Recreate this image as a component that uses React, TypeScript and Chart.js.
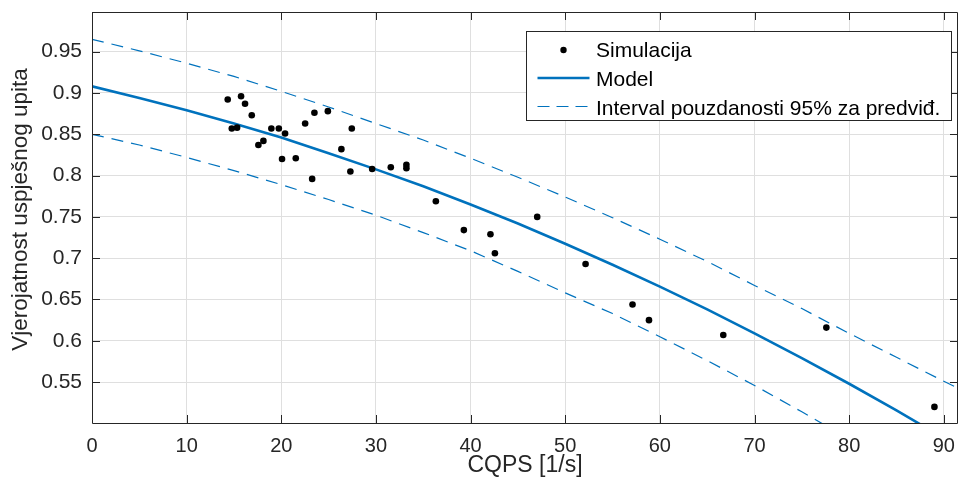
import { useEffect, useRef } from "react";
import { Chart, registerables } from "chart.js";

Chart.register(...registerables);

// ---- data ----
const simX = [
  14.34, 15.75, 16.17, 16.88, 14.77, 15.33, 17.58, 18.11, 18.95, 19.74,
  20.40, 20.08, 21.53, 22.52, 23.50, 24.92, 23.26, 26.35, 27.45, 27.30,
  29.60, 31.57, 33.22, 33.22, 36.33, 39.29, 42.10, 42.57, 47.04, 52.15,
  57.11, 58.85, 66.70, 77.59, 89.01,
];
const simY = [
  0.892, 0.896, 0.887, 0.873, 0.857, 0.858, 0.837, 0.842, 0.857, 0.857,
  0.851, 0.820, 0.821, 0.863, 0.876, 0.878, 0.796, 0.832, 0.857, 0.805,
  0.808, 0.810, 0.813, 0.809, 0.769, 0.734, 0.729, 0.706, 0.750, 0.693,
  0.644, 0.625, 0.607, 0.616, 0.520,
];
const curveX = [0, 5, 10, 15, 20, 25, 30, 35, 40, 45, 50, 55, 60, 65, 70, 75, 80, 85, 90, 92];
const modelY = [
  0.908, 0.894, 0.879, 0.863, 0.846, 0.827, 0.8075, 0.787, 0.765, 0.742,
  0.7175, 0.692, 0.6656, 0.638, 0.609, 0.579, 0.548, 0.5157, 0.4823, 0.4686,
];
const upperY = [
  0.965, 0.951, 0.936, 0.920, 0.902, 0.883, 0.863, 0.843, 0.821, 0.798,
  0.774, 0.749, 0.723, 0.696, 0.667, 0.639, 0.609, 0.580, 0.551, 0.540,
];
const lowerY = [
  0.850, 0.837, 0.822, 0.806, 0.789, 0.771, 0.752, 0.731, 0.709, 0.684,
  0.658, 0.633, 0.605, 0.576, 0.546, 0.514, 0.481, 0.448, 0.414, 0.400,
];
const xTicks = [0, 10, 20, 30, 40, 50, 60, 70, 80, 90];
const yTicks = [0.55, 0.6, 0.65, 0.7, 0.75, 0.8, 0.85, 0.9, 0.95];
const xRange = [0, 91.5];
const yRange = [0.5005, 0.998];

const seriesLabels = ["Simulacija", "Model", "Interval pouzdanosti 95% za predviđ."];
const xTitle = "CQPS [1/s]";
const yTitle = "Vjerojatnost uspješnog upita";

const FONT = "'Liberation Sans', Arial, Helvetica, sans-serif";
const BLUE = "#0072BD";
const AXIS = "#262626";
const GRID = "#dfdfdf";

const frameAndLegend = {
  id: "frameAndLegend",
  afterDatasetsDraw(chart: any) {
    const ctx = chart.ctx as CanvasRenderingContext2D;
    const { left, right, top, bottom } = chart.chartArea;
    const xs = chart.scales.x;
    const ys = chart.scales.y;
    const tl = 8;
    ctx.save();
    ctx.strokeStyle = AXIS;
    ctx.lineWidth = 1;
    ctx.beginPath();
    ctx.rect(Math.round(left) + 0.5, Math.round(top) + 0.5, Math.round(right - left) - 1, Math.round(bottom - top));
    for (const v of xTicks) {
      const px = Math.round(xs.getPixelForValue(v)) + 0.5;
      ctx.moveTo(px, bottom);
      ctx.lineTo(px, bottom - tl);
      ctx.moveTo(px, top);
      ctx.lineTo(px, top + tl);
    }
    for (const v of yTicks) {
      const py = Math.round(ys.getPixelForValue(v)) + 0.5;
      ctx.moveTo(left, py);
      ctx.lineTo(left + tl, py);
      ctx.moveTo(right, py);
      ctx.lineTo(right - tl, py);
    }
    ctx.stroke();
    ctx.restore();
  },
  afterDraw(chart: any) {
    const ctx = chart.ctx as CanvasRenderingContext2D;
    const { right, top, bottom } = chart.chartArea;
    // y axis title
    ctx.save();
    ctx.font = `22.5px ${FONT}`;
    ctx.fillStyle = AXIS;
    ctx.textAlign = "center";
    ctx.textBaseline = "middle";
    ctx.translate(21, (top + bottom) / 2 - 8);
    ctx.rotate(-Math.PI / 2);
    ctx.fillText(yTitle, 0, 0);
    ctx.restore();

    // legend
    const bx = Math.round(right - 432) + 0.5;
    const by = Math.round(top + 19) + 0.5;
    const bw = 425;
    const bh = 89;
    ctx.save();
    ctx.fillStyle = "#ffffff";
    ctx.fillRect(bx, by, bw, bh);
    ctx.strokeStyle = AXIS;
    ctx.lineWidth = 1;
    ctx.strokeRect(bx, by, bw, bh);
    const rows = [by + 19.5, by + 49, by + 77.5];
    const sx0 = bx + 11;
    const sx1 = bx + 63;
    const tx = bx + 69.5;
    ctx.font = `21px ${FONT}`;
    ctx.fillStyle = "#000000";
    ctx.textBaseline = "middle";
    ctx.textAlign = "left";
    ctx.beginPath();
    ctx.arc((sx0 + sx1) / 2, rows[0] - 1, 3.2, 0, Math.PI * 2);
    ctx.fill();
    ctx.fillText(seriesLabels[0], tx, rows[0]);
    ctx.strokeStyle = BLUE;
    ctx.lineWidth = 2.6;
    ctx.beginPath();
    ctx.moveTo(sx0, rows[1] - 2.5);
    ctx.lineTo(sx1, rows[1] - 2.5);
    ctx.stroke();
    ctx.fillText(seriesLabels[1], tx, rows[1]);
    ctx.lineWidth = 1.2;
    ctx.setLineDash([12, 7]);
    ctx.beginPath();
    ctx.moveTo(sx0, rows[2] - 2.5);
    ctx.lineTo(sx1, rows[2] - 2.5);
    ctx.stroke();
    ctx.setLineDash([]);
    ctx.fillText(seriesLabels[2], tx, rows[2]);
    ctx.restore();
  },
};

export default function App() {
  const ref = useRef<HTMLCanvasElement | null>(null);
  useEffect(() => {
    if (!ref.current) return;
    const pts = simX.map((x, i) => ({ x, y: simY[i] }));
    const model = curveX.map((x, i) => ({ x, y: modelY[i] }));
    const upper = curveX.map((x, i) => ({ x, y: upperY[i] }));
    const lower = curveX.map((x, i) => ({ x, y: lowerY[i] }));
    const chart = new Chart(ref.current, {
      type: "scatter",
      data: {
        datasets: [
          {
            label: seriesLabels[0],
            data: pts,
            pointRadius: 3.3,
            pointBackgroundColor: "#000000",
            pointBorderWidth: 0,
            showLine: false,
          },
          {
            label: seriesLabels[1],
            data: model,
            showLine: true,
            pointRadius: 0,
            borderColor: BLUE,
            borderWidth: 2.6,
            tension: 0,
          },
          {
            label: seriesLabels[2],
            data: upper,
            showLine: true,
            pointRadius: 0,
            borderColor: BLUE,
            borderWidth: 1.2,
            borderDash: [12, 8],
            tension: 0,
          },
          {
            label: seriesLabels[2] + " (donja)",
            data: lower,
            showLine: true,
            pointRadius: 0,
            borderColor: BLUE,
            borderWidth: 1.2,
            borderDash: [12, 8],
            tension: 0,
          },
        ],
      },
      options: {
        animation: false,
        responsive: false,
        maintainAspectRatio: false,
        events: [],
        layout: { autoPadding: false, padding: { left: 0, right: 1, top: 12, bottom: 0 } },
        plugins: { legend: { display: false }, tooltip: { enabled: false } },
        scales: {
          x: {
            type: "linear",
            min: xRange[0],
            max: xRange[1],
            afterBuildTicks: (s: any) => {
              s.ticks = xTicks.map((v) => ({ value: v }));
            },
            afterFit: (s: any) => {
              s.height = 58;
              s.paddingLeft = 0;
              s.paddingRight = 0;
            },
            grid: { color: GRID, lineWidth: 1, drawTicks: false },
            border: { display: false },
            ticks: {
              color: AXIS,
              font: { family: FONT, size: 20 },
              padding: 11,
              maxRotation: 0,
              autoSkip: false,
              includeBounds: false,
              callback: (v: any) => String(v),
            },
            title: {
              display: true,
              text: xTitle,
              color: AXIS,
              font: { family: FONT, size: 23 },
              padding: { top: 0, bottom: 2 },
            },
          },
          y: {
            type: "linear",
            min: yRange[0],
            max: yRange[1],
            afterBuildTicks: (s: any) => {
              s.ticks = yTicks.map((v) => ({ value: v }));
            },
            afterFit: (s: any) => {
              s.width = 92;
              s.paddingTop = 0;
              s.paddingBottom = 0;
            },
            grid: { color: GRID, lineWidth: 1, drawTicks: false },
            border: { display: false },
            ticks: {
              color: AXIS,
              font: { family: FONT, size: 21 },
              padding: 10,
              autoSkip: false,
              includeBounds: false,
              callback: (v: any) => String(Math.round(v * 100) / 100),
            },
            title: { display: false },
          },
        },
      },
      plugins: [frameAndLegend],
    });
    return () => chart.destroy();
  }, []);
  return (
    <div style={{ position: "fixed", left: 0, top: 0, width: 959, height: 481, background: "#fff" }}>
      <canvas ref={ref} width={959} height={481} style={{ display: "block", width: 959, height: 481 }} />
    </div>
  );
}
